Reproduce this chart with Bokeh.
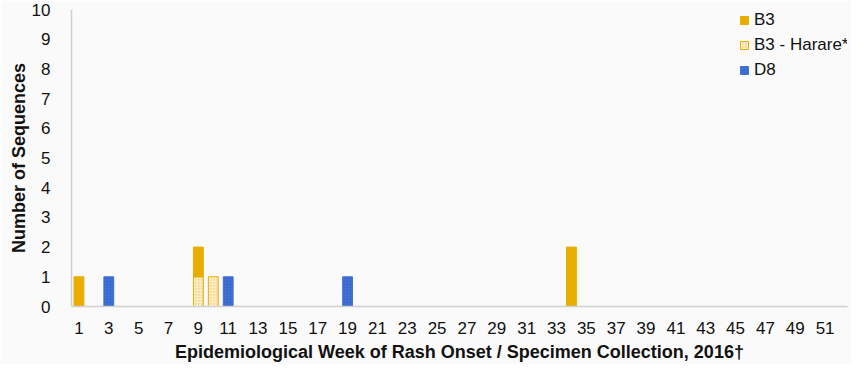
from bokeh.plotting import figure
from bokeh.models import ColumnDataSource, Range1d, FixedTicker, Legend, LegendItem
from bokeh.embed import file_html
from bokeh.resources import INLINE

weeks = list(range(1, 53))
tick_weeks = list(range(1, 52, 2))
b3_weeks = [1, 9, 34]
b3_counts = [1, 1, 2]
harare_weeks = [9, 10]
harare_counts = [1, 1]
d8_weeks = [3, 11, 19]
d8_counts = [1, 1, 1]

# stacking order: Harare at bottom, then B3, then D8
base = {w: 0 for w in weeks}

def stacked(ws, cs):
    bottoms, tops = [], []
    for w, c in zip(ws, cs):
        bottoms.append(base[w])
        tops.append(base[w] + c)
        base[w] += c
    return ColumnDataSource(dict(week=ws, bottom=bottoms, top=tops))

src_harare = stacked(harare_weeks, harare_counts)
src_b3 = stacked(b3_weeks, b3_counts)
src_d8 = stacked(d8_weeks, d8_counts)

FONT = "Liberation Sans"
BG = "#fafafa"
GOLD = "#E8AD00"
LIGHT = "#F6D98B"
BLUE = "#4273D6"

p = figure(width=851, height=364, output_backend="svg", toolbar_location=None,
           x_range=Range1d(0.5, 52.5), y_range=Range1d(0, 10),
           min_border_left=71, min_border_right=4, min_border_top=9, min_border_bottom=0)
p.background_fill_color = BG
p.border_fill_color = BG
p.outline_line_color = None
p.xgrid.visible = False
p.ygrid.visible = False

W = 0.66
r_h = p.vbar(x="week", bottom="bottom", top="top", width=W, source=src_harare,
             fill_color=LIGHT, line_color=GOLD, line_width=1,
             hatch_pattern="criss_cross", hatch_color="#ffffff", hatch_alpha=0.35, hatch_scale=3)
r_b = p.vbar(x="week", bottom="bottom", top="top", width=W, source=src_b3,
             fill_color=GOLD, line_color=GOLD, line_width=1)
r_d = p.vbar(x="week", bottom="bottom", top="top", width=W, source=src_d8,
             fill_color=BLUE, line_color=BLUE, line_width=1,
             hatch_pattern="criss_cross", hatch_color="#2a5ac0", hatch_alpha=0.25, hatch_scale=3)

p.xaxis.ticker = FixedTicker(ticks=tick_weeks)
p.yaxis.ticker = FixedTicker(ticks=list(range(0, 11)))
for ax in (p.xaxis, p.yaxis):
    ax.axis_line_color = "#d0d0d0"
    ax.axis_line_width = 1.5
    ax.major_tick_line_color = None
    ax.minor_tick_line_color = None
    ax.major_label_text_font = FONT
    ax.major_label_text_color = "#111111"
    ax.major_label_text_font_size = "17px"
    ax.axis_label_text_font = FONT
    ax.axis_label_text_font_style = "bold"
    ax.axis_label_text_color = "#111111"
    ax.axis_label_text_font_size = "18px"
p.xaxis.axis_label = "Epidemiological Week of Rash Onset / Specimen Collection, 2016\u2020"
p.yaxis.axis_label = "Number of Sequences"
p.xaxis.major_label_standoff = 9
p.xaxis.axis_label_standoff = 5
p.yaxis.major_label_standoff = 15
p.yaxis.axis_label_standoff = 0

legend = Legend(items=[LegendItem(label="B3", renderers=[r_b]),
                       LegendItem(label="B3 - Harare*", renderers=[r_h]),
                       LegendItem(label="D8", renderers=[r_d])],
                location=(668, 226), orientation="vertical")
legend.background_fill_alpha = 0
legend.border_line_color = None
legend.padding = 0
legend.margin = 0
legend.spacing = 4
legend.glyph_width = 10
legend.glyph_height = 10
legend.label_height = 21
legend.label_standoff = 5
legend.label_text_font = FONT
legend.label_text_font_size = "17px"
legend.label_text_color = "#111111"
p.add_layout(legend, "center")

open("out.html", "w").write(file_html(p, INLINE))
